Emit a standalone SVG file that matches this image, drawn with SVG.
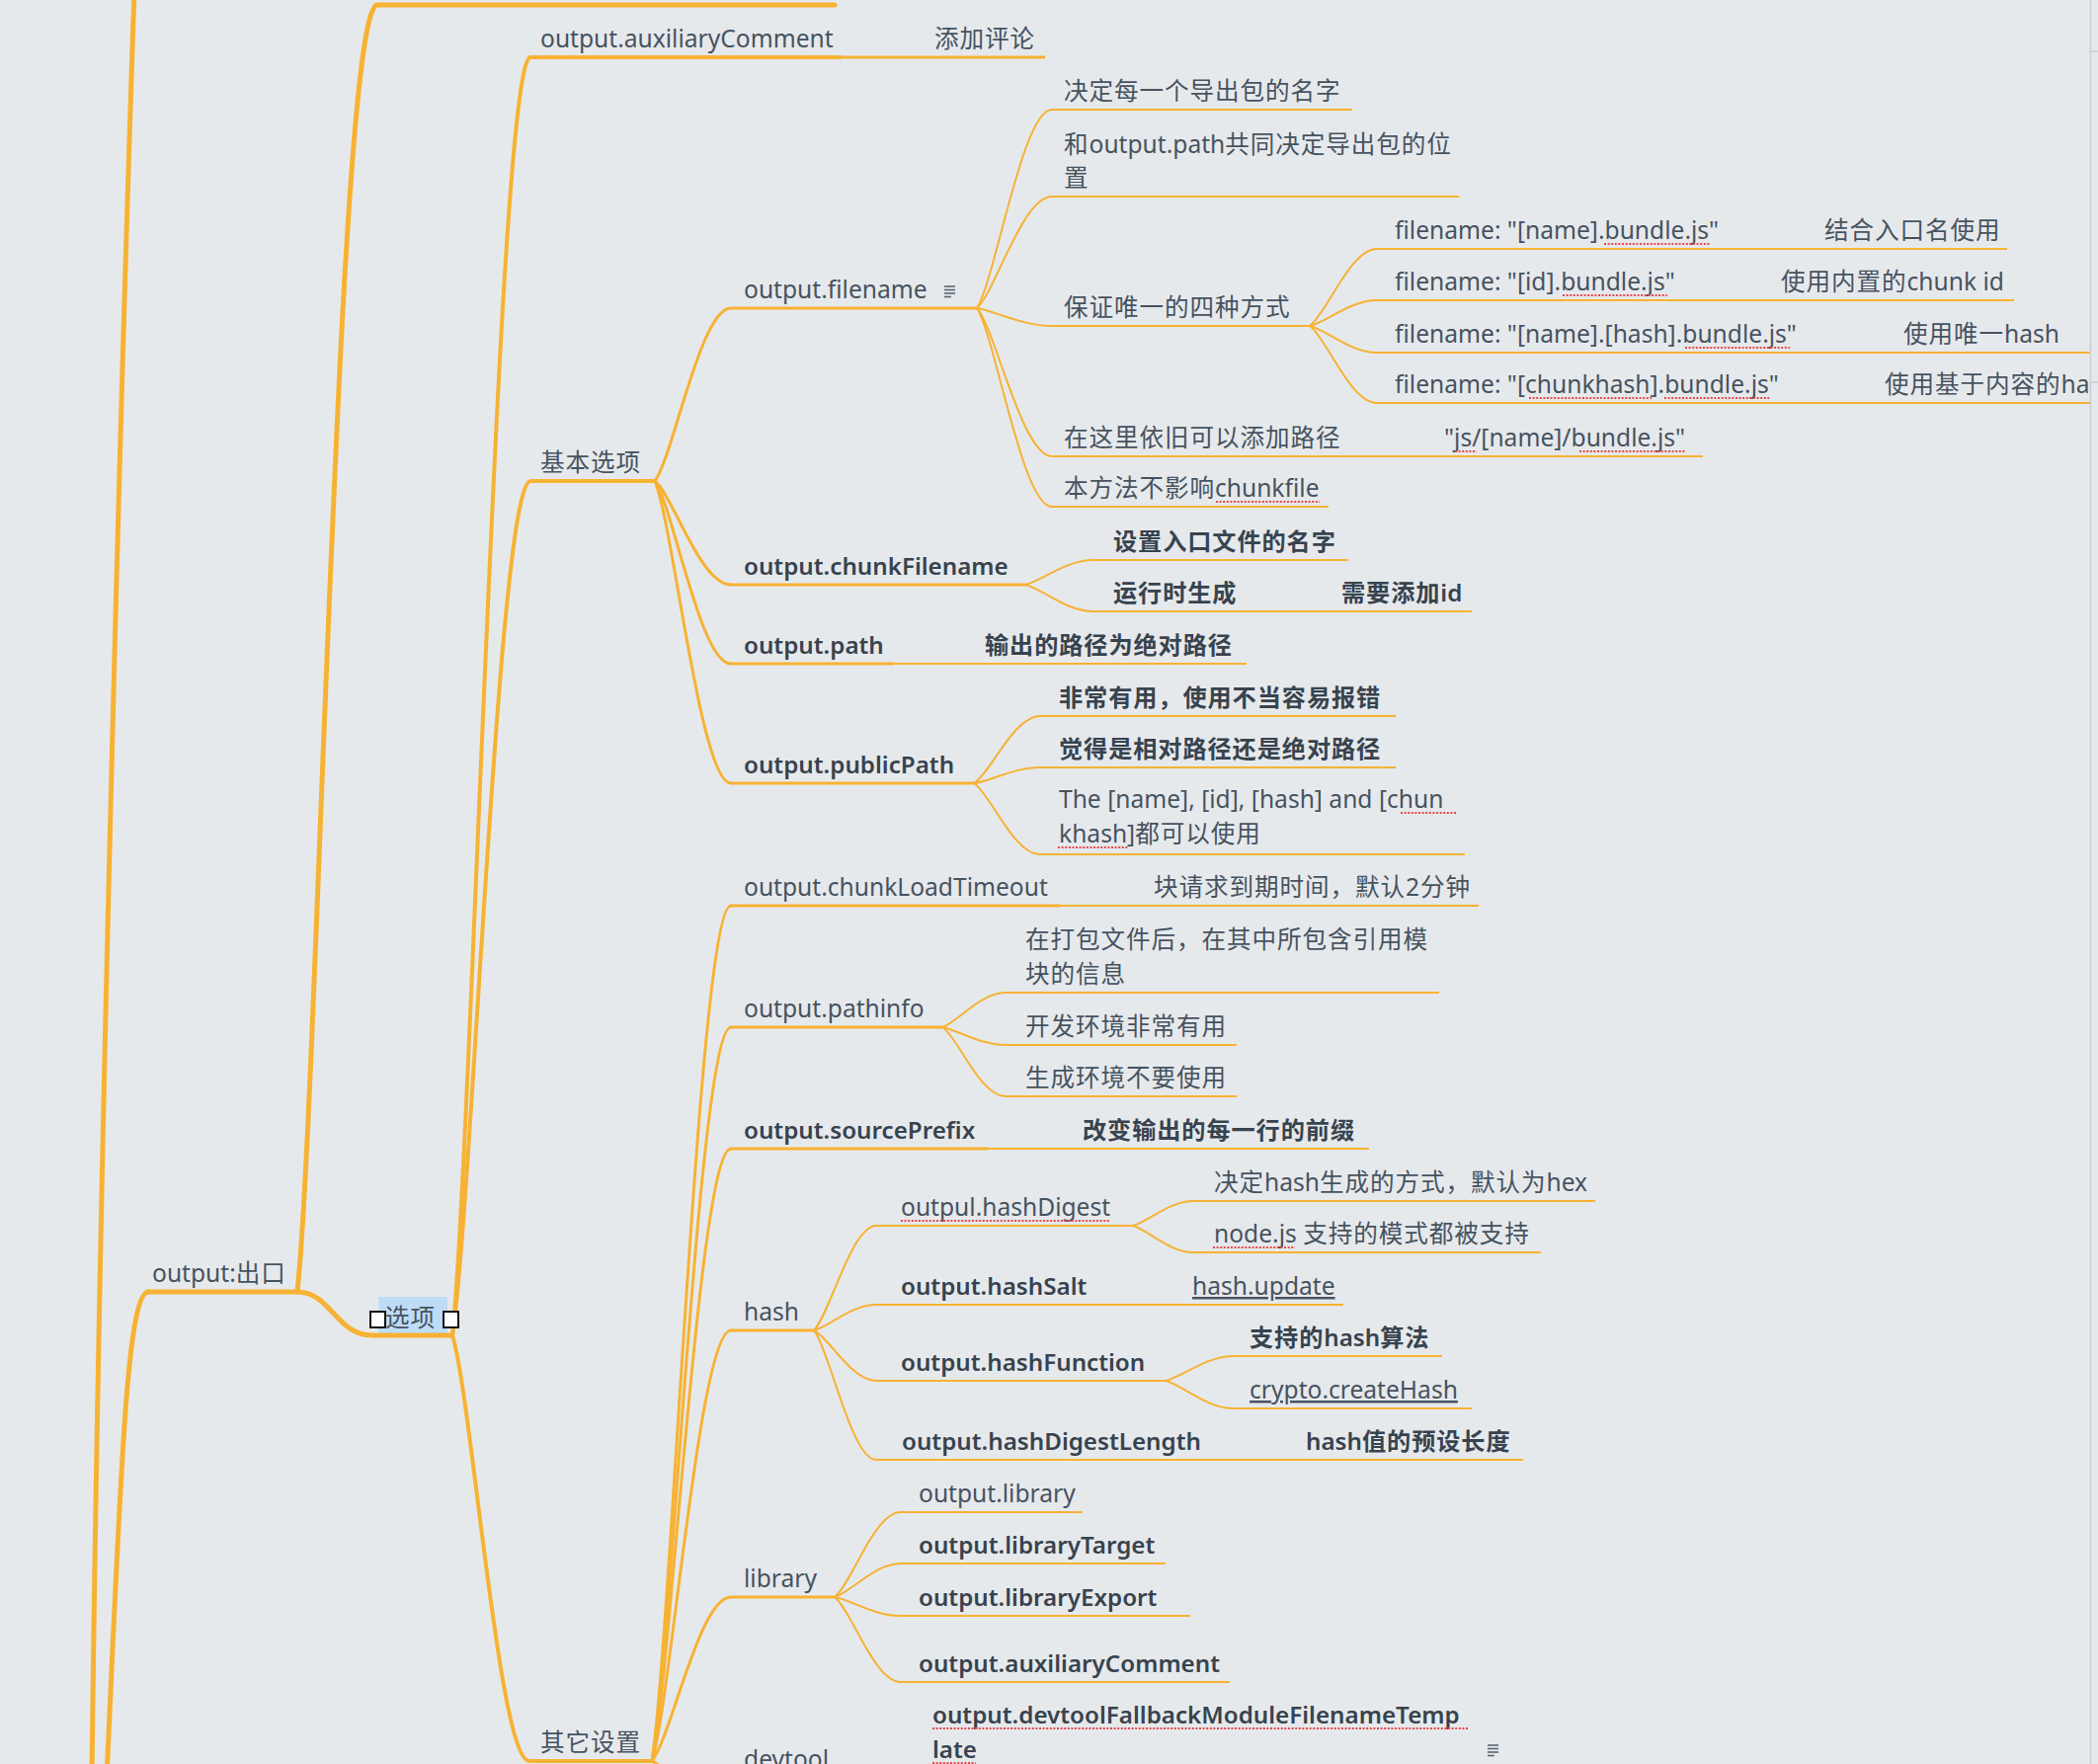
<svg xmlns="http://www.w3.org/2000/svg" width="2124" height="1786" viewBox="0 0 2124 1786">
<style>
.bg{fill:#E6E9EC}
.c{fill:none;stroke:#F7B233;stroke-linecap:round}
.w5{stroke-width:5}.w4{stroke-width:4}.w3{stroke-width:3}.w2{stroke-width:2}
.u{fill:none;stroke:#F7B233;stroke-linecap:butt}
.t{font-family:"Noto Sans","Noto Sans CJK SC",sans-serif;font-size:24.6px;fill:#46535F}
.b{font-weight:600;fill:#37434E;font-size:24.2px}
.z{letter-spacing:0.9px}
.lk{text-decoration:underline}
.sp{stroke:#E8474A;stroke-width:2;stroke-dasharray:2 1.6;fill:none}
.ic{stroke:#5A6671;stroke-width:1.6}
</style>
<rect class="bg" x="0" y="0" width="2124" height="1786"/>
<g id="connectors">
<path class="c w5" d="M136,-10 C122,400 100,1200 93,1800"/>
<path class="c w5" d="M108,1800 C122,1500 128,1310 150,1308"/>
<path class="c w5" d="M301,1308 C322,1112 342,5 382,5 L845,5"/>
<path class="c w5" d="M301,1308 C335,1308 340,1352 377,1352"/>
<path class="c w4" d="M458,1352 C478,1158 505,58 537,58"/>
<path class="c w4" d="M458,1352 C478,1222 505,487 537,487"/>
<path class="c w4" d="M458,1352 C478,1417 505,1783 536,1783"/>
<path class="c w3" d="M663,487 C682,461 709,312 740,312"/>
<path class="c w3" d="M663,487 C682,503 709,592 740,592"/>
<path class="c w3" d="M663,487 C682,515 709,672 740,672"/>
<path class="c w3" d="M663,487 C682,533 709,793 740,793"/>
<path class="c w2" d="M989,312 C1008,282 1035,111 1065,111"/>
<path class="c w2" d="M989,312 C1008,295 1035,199 1065,199"/>
<path class="c w2" d="M989,312 C1008,315 1035,330 1065,330"/>
<path class="c w2" d="M989,312 C1008,334 1035,462 1065,462"/>
<path class="c w2" d="M989,312 C1008,342 1035,513 1065,513"/>
<path class="c w2" d="M1326,330 C1343,318 1367,252 1394,252"/>
<path class="c w2" d="M1326,330 C1343,326 1367,304 1394,304"/>
<path class="c w2" d="M1326,330 C1343,334 1367,357 1394,357"/>
<path class="c w2" d="M1326,330 C1343,342 1367,408 1394,408"/>
<path class="c w2" d="M1038,592 C1055,588 1079,567 1107,567"/>
<path class="c w2" d="M1038,592 C1055,596 1079,619 1107,619"/>
<path class="c w2" d="M986,793 C1003,783 1026,725 1053,725"/>
<path class="c w2" d="M986,793 C1003,791 1026,777 1053,777"/>
<path class="c w2" d="M986,793 C1003,804 1026,865 1053,865"/>
<path class="c w3" d="M660,1783 C680,1653 708,917 740,917"/>
<path class="c w3" d="M660,1783 C680,1672 708,1040 740,1040"/>
<path class="c w3" d="M660,1783 C680,1690 708,1163 740,1163"/>
<path class="c w3" d="M660,1783 C680,1718 708,1347 740,1347"/>
<path class="c w3" d="M660,1783 C680,1758 708,1617 740,1617"/>
<path class="c w3" d="M660,1783 C680,1791 708,1835 740,1835"/>
<path class="c w2" d="M954,1040 C970,1035 992,1005 1018,1005"/>
<path class="c w2" d="M954,1040 C970,1043 992,1058 1018,1058"/>
<path class="c w2" d="M954,1040 C970,1050 992,1110 1018,1110"/>
<path class="c w2" d="M824,1347 C840,1331 862,1241 887,1241"/>
<path class="c w2" d="M824,1347 C840,1343 862,1321 887,1321"/>
<path class="c w2" d="M824,1347 C840,1355 862,1398 887,1398"/>
<path class="c w2" d="M824,1347 C840,1367 862,1478 887,1478"/>
<path class="c w2" d="M1147,1241 C1162,1237 1184,1216 1208,1216"/>
<path class="c w2" d="M1147,1241 C1162,1245 1184,1268 1208,1268"/>
<path class="c w2" d="M1180,1398 C1197,1394 1221,1373 1249,1373"/>
<path class="c w2" d="M1180,1398 C1197,1402 1221,1426 1249,1426"/>
<path class="c w2" d="M845,1617 C862,1604 885,1531 912,1531"/>
<path class="c w2" d="M845,1617 C862,1612 885,1583 912,1583"/>
<path class="c w2" d="M845,1617 C862,1620 885,1636 912,1636"/>
<path class="c w2" d="M845,1617 C862,1630 885,1703 912,1703"/>
</g>
<g id="node-output-exit">
<line class="u w5" x1="148" y1="1308" x2="301" y2="1308"/>
<text class="t" x="154" y="1298">output:<tspan class="z">出口</tspan></text>
</g>
<g id="node-options">
<rect x="383" y="1313" width="70" height="38" fill="#BFDCF7"/>
<line class="u w5" x1="377" y1="1352" x2="458" y2="1352"/>
<text class="t z" x="390" y="1343">选项</text>
<rect x="375" y="1328" width="15" height="16" fill="#FFFFFF" stroke="#111" stroke-width="2"/>
<rect x="449" y="1328" width="15" height="16" fill="#FFFFFF" stroke="#111" stroke-width="2"/>
</g>
<g id="node-aux-comment-top">
<line class="u w4" x1="537" y1="58" x2="852" y2="58"/>
<text class="t" x="547" y="48">output.auxiliaryComment</text>
</g>
<g id="node-add-comment">
<line class="u w3" x1="852" y1="58" x2="1058" y2="58"/>
<text class="t z" x="946" y="48">添加评论</text>
</g>
<g id="node-basic">
<line class="u w4" x1="537" y1="487" x2="663" y2="487"/>
<text class="t z" x="547" y="477">基本选项</text>
</g>
<g id="node-other">
<line class="u w4" x1="536" y1="1783" x2="660" y2="1783"/>
<text class="t z" x="547" y="1773">其它设置</text>
</g>
<g id="node-filename">
<line class="u w3" x1="740" y1="312" x2="989" y2="312"/>
<text class="t" x="753" y="302">output.filename</text>
<g class="ic"><line x1="956" y1="290" x2="967" y2="290"/><line x1="956" y1="293.5" x2="967" y2="293.5"/><line x1="956" y1="297" x2="967" y2="297"/><line x1="956" y1="300.5" x2="963" y2="300.5"/></g>
</g>
<g id="node-fn-1">
<line class="u w2" x1="1065" y1="111" x2="1369" y2="111"/>
<text class="t z" x="1077" y="101">决定每一个导出包的名字</text>
</g>
<g id="node-fn-2">
<line class="u w2" x1="1065" y1="199" x2="1477" y2="199"/>
<text class="t" x="1077" y="155"><tspan class="z">和</tspan>output.path<tspan class="z">共同决定导出包的位</tspan></text>
<text class="t z" x="1077" y="189">置</text>
</g>
<g id="node-fn-3">
<line class="u w2" x1="1065" y1="330" x2="1326" y2="330"/>
<text class="t z" x="1077" y="320">保证唯一的四种方式</text>
</g>
<g id="node-u1">
<line class="u w2" x1="1394" y1="252" x2="2032" y2="252"/>
<text class="t" x="1412" y="242">filename: "[name].bundle.js"</text>
<text class="t z" x="1847" y="242">结合入口名使用</text>
<line class="sp" x1="1624" y1="247" x2="1731" y2="247"/>
</g>
<g id="node-u2">
<line class="u w2" x1="1394" y1="304" x2="2039" y2="304"/>
<text class="t" x="1412" y="294">filename: "[id].bundle.js"</text>
<text class="t" x="1803" y="294"><tspan class="z">使用内置的</tspan>chunk id</text>
<line class="sp" x1="1582" y1="299" x2="1688" y2="299"/>
</g>
<g id="node-u3">
<line class="u w2" x1="1394" y1="357" x2="2116" y2="357"/>
<text class="t" x="1412" y="347">filename: "[name].[hash].bundle.js"</text>
<text class="t" x="1927" y="347"><tspan class="z">使用唯一</tspan>hash</text>
<line class="sp" x1="1706" y1="352" x2="1812" y2="352"/>
</g>
<g id="node-u4">
<line class="u w2" x1="1394" y1="408" x2="2116" y2="408"/>
<text class="t" x="1412" y="398">filename: "[chunkhash].bundle.js"</text>
<text class="t" x="1908" y="398"><tspan class="z">使用基于内容的</tspan>ha</text>
<line class="sp" x1="1548" y1="403" x2="1672" y2="403"/>
<line class="sp" x1="1685" y1="403" x2="1792" y2="403"/>
</g>
<g id="node-fn-4">
<line class="u w2" x1="1065" y1="462" x2="1724" y2="462"/>
<text class="t z" x="1077" y="452">在这里依旧可以添加路径</text>
<text class="t" x="1462" y="452">"js/[name]/bundle.js"</text>
<line class="sp" x1="1473" y1="457" x2="1495" y2="457"/>
<line class="sp" x1="1599" y1="457" x2="1706" y2="457"/>
</g>
<g id="node-fn-5">
<line class="u w2" x1="1065" y1="513" x2="1345" y2="513"/>
<text class="t" x="1077" y="503"><tspan class="z">本方法不影响</tspan>chunkfile</text>
<line class="sp" x1="1231" y1="508" x2="1336" y2="508"/>
</g>
<g id="node-chunkfilename">
<line class="u w3" x1="740" y1="592" x2="1038" y2="592"/>
<text class="t b" x="753" y="582">output.chunkFilename</text>
</g>
<g id="node-cf-1">
<line class="u w2" x1="1107" y1="567" x2="1365" y2="567"/>
<text class="t b z" x="1127" y="557">设置入口文件的名字</text>
</g>
<g id="node-cf-2">
<line class="u w2" x1="1107" y1="619" x2="1490" y2="619"/>
<text class="t b z" x="1127" y="609">运行时生成</text>
<text class="t b" x="1358" y="609"><tspan class="z">需要添加</tspan>id</text>
</g>
<g id="node-path">
<line class="u w3" x1="740" y1="672" x2="905" y2="672"/>
<text class="t b" x="753" y="662">output.path</text>
</g>
<g id="node-path-1">
<line class="u w2" x1="905" y1="672" x2="1262" y2="672"/>
<text class="t b z" x="997" y="662">输出的路径为绝对路径</text>
</g>
<g id="node-publicpath">
<line class="u w3" x1="740" y1="793" x2="986" y2="793"/>
<text class="t b" x="753" y="783">output.publicPath</text>
</g>
<g id="node-pp-1">
<line class="u w2" x1="1053" y1="725" x2="1413" y2="725"/>
<text class="t b z" x="1072" y="715">非常有用，使用不当容易报错</text>
</g>
<g id="node-pp-2">
<line class="u w2" x1="1053" y1="777" x2="1413" y2="777"/>
<text class="t b z" x="1072" y="767">觉得是相对路径还是绝对路径</text>
</g>
<g id="node-pp-3">
<line class="u w2" x1="1053" y1="865" x2="1483" y2="865"/>
<text class="t" x="1072" y="818">The [name], [id], [hash] and [chun</text>
<text class="t" x="1072" y="853">khash]<tspan class="z">都可以使用</tspan></text>
<line class="sp" x1="1418" y1="823" x2="1475" y2="823"/>
<line class="sp" x1="1071" y1="858" x2="1142" y2="858"/>
</g>
<g id="node-chunkloadtimeout">
<line class="u w3" x1="740" y1="917" x2="1073" y2="917"/>
<text class="t" x="753" y="907">output.chunkLoadTimeout</text>
</g>
<g id="node-clt-1">
<line class="u w2" x1="1073" y1="917" x2="1497" y2="917"/>
<text class="t z" x="1168" y="907">块请求到期时间，默认2分钟</text>
</g>
<g id="node-pathinfo">
<line class="u w3" x1="740" y1="1040" x2="954" y2="1040"/>
<text class="t" x="753" y="1030">output.pathinfo</text>
</g>
<g id="node-pi-1">
<line class="u w2" x1="1018" y1="1005" x2="1457" y2="1005"/>
<text class="t z" x="1038" y="960">在打包文件后，在其中所包含引用模</text>
<text class="t z" x="1038" y="995">块的信息</text>
</g>
<g id="node-pi-2">
<line class="u w2" x1="1018" y1="1058" x2="1252" y2="1058"/>
<text class="t z" x="1038" y="1048">开发环境非常有用</text>
</g>
<g id="node-pi-3">
<line class="u w2" x1="1018" y1="1110" x2="1252" y2="1110"/>
<text class="t z" x="1038" y="1100">生成环境不要使用</text>
</g>
<g id="node-sourceprefix">
<line class="u w3" x1="740" y1="1163" x2="1000" y2="1163"/>
<text class="t b" x="753" y="1153">output.sourcePrefix</text>
</g>
<g id="node-sp-1">
<line class="u w2" x1="1000" y1="1163" x2="1386" y2="1163"/>
<text class="t b z" x="1096" y="1153">改变输出的每一行的前缀</text>
</g>
<g id="node-hash">
<line class="u w3" x1="740" y1="1347" x2="824" y2="1347"/>
<text class="t" x="753" y="1337">hash</text>
</g>
<g id="node-hashdigest">
<line class="u w2" x1="887" y1="1241" x2="1147" y2="1241"/>
<text class="t" x="912" y="1231">outpul.hashDigest</text>
<line class="sp" x1="912" y1="1236" x2="1124" y2="1236"/>
</g>
<g id="node-hd-1">
<line class="u w2" x1="1208" y1="1216" x2="1615" y2="1216"/>
<text class="t" x="1229" y="1206"><tspan class="z">决定</tspan>hash<tspan class="z">生成的方式，默认为</tspan>hex</text>
</g>
<g id="node-hd-2">
<line class="u w2" x1="1208" y1="1268" x2="1560" y2="1268"/>
<text class="t" x="1229" y="1258">node.js <tspan class="z">支持的模式都被支持</tspan></text>
<line class="sp" x1="1228" y1="1263" x2="1311" y2="1263"/>
</g>
<g id="node-hashsalt">
<line class="u w2" x1="887" y1="1321" x2="1360" y2="1321"/>
<text class="t b" x="912" y="1311">output.hashSalt</text>
<text class="t lk" x="1207" y="1311">hash.update</text>
</g>
<g id="node-hashfunction">
<line class="u w2" x1="887" y1="1398" x2="1180" y2="1398"/>
<text class="t b" x="912" y="1388">output.hashFunction</text>
</g>
<g id="node-hf-1">
<line class="u w2" x1="1249" y1="1373" x2="1460" y2="1373"/>
<text class="t b" x="1265" y="1363"><tspan class="z">支持的</tspan>hash<tspan class="z">算法</tspan></text>
</g>
<g id="node-hf-2">
<line class="u w2" x1="1249" y1="1426" x2="1490" y2="1426"/>
<text class="t lk" x="1265" y="1416">crypto.createHash</text>
</g>
<g id="node-hashdigestlength">
<line class="u w2" x1="887" y1="1478" x2="1542" y2="1478"/>
<text class="t b" x="913" y="1468">output.hashDigestLength</text>
<text class="t b" x="1322" y="1468">hash<tspan class="z">值的预设长度</tspan></text>
</g>
<g id="node-library">
<line class="u w3" x1="740" y1="1617" x2="845" y2="1617"/>
<text class="t" x="753" y="1607">library</text>
</g>
<g id="node-lib-1">
<line class="u w2" x1="912" y1="1531" x2="1096" y2="1531"/>
<text class="t" x="930" y="1521">output.library</text>
</g>
<g id="node-lib-2">
<line class="u w2" x1="912" y1="1583" x2="1180" y2="1583"/>
<text class="t b" x="930" y="1573">output.libraryTarget</text>
</g>
<g id="node-lib-3">
<line class="u w2" x1="912" y1="1636" x2="1205" y2="1636"/>
<text class="t b" x="930" y="1626">output.libraryExport</text>
</g>
<g id="node-lib-4">
<line class="u w2" x1="912" y1="1703" x2="1245" y2="1703"/>
<text class="t b" x="930" y="1693">output.auxiliaryComment</text>
</g>
<g id="node-devtool">
<text class="t" x="753" y="1790">devtool</text>
</g>
<g id="node-devtool-1">
<text class="t b" x="944" y="1745">output.devtoolFallbackModuleFilenameTemp</text>
<text class="t b" x="944" y="1780">late</text>
<line class="sp" x1="944" y1="1750" x2="1486" y2="1750"/>
<line class="sp" x1="944" y1="1785" x2="988" y2="1785"/>
<g class="ic"><line x1="1506" y1="1767" x2="1517" y2="1767"/><line x1="1506" y1="1770.5" x2="1517" y2="1770.5"/><line x1="1506" y1="1774" x2="1517" y2="1774"/><line x1="1506" y1="1777.5" x2="1513" y2="1777.5"/></g>
</g>
<g id="panel-edge">
<line x1="2116.5" y1="0" x2="2116.5" y2="1786" stroke="#C9CDD1" stroke-width="1.5"/>
<line x1="2117" y1="52" x2="2124" y2="52" stroke="#C9CDD1" stroke-width="1.5"/>
<line x1="2117" y1="387" x2="2124" y2="387" stroke="#C9CDD1" stroke-width="1.5"/>
</g>
</svg>
